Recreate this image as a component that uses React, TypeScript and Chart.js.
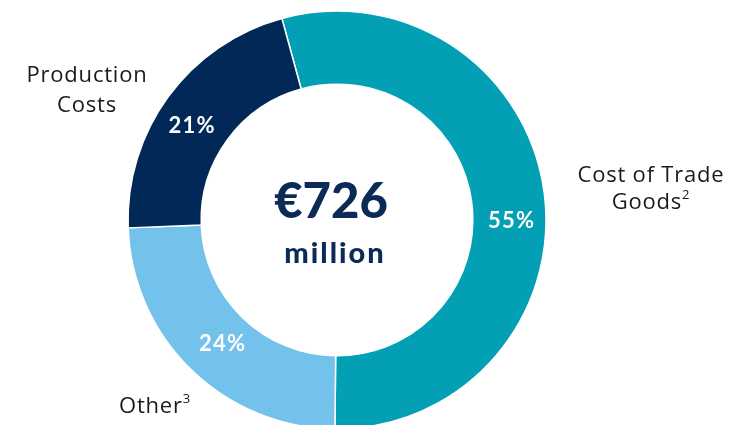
import React, { useEffect, useRef } from "react";
import { Chart, registerables } from "chart.js";

Chart.register(...registerables);

const categories = ["Cost of Trade Goods", "Other", "Production Costs"];
const values = [395, 176, 155]; // € million
const percentLabels = ["55%", "24%", "21%"];
const colors = ["#039FB5", "#72C2EC", "#022857"];
const totalLabel = "€726";
const unitLabel = "million";

const labelAngleOffsetDeg = [7.4, -1, -3];
const labelRadius = [174, 168, 174];

const outsideLabels = [
  { lines: ["Cost of Trade", "Goods"], sup: "2", x: 651, y: [182, 209] },
  { lines: ["Other"], sup: "3", x: 155, y: [413] },
  { lines: ["Production", "Costs"], sup: "", x: 87, y: [82, 112] },
];

function drawSpaced(ctx: any, text: string, x: number, y: number, spacing: number) {
  ctx.letterSpacing = spacing + "px";
  const w = ctx.measureText(text).width - spacing;
  ctx.textAlign = "left";
  ctx.fillText(text, x - w / 2, y);
  ctx.letterSpacing = "0px";
}

const textPlugin = {
  id: "donutText",
  afterDraw(chart: any) {
    const ctx = chart.ctx;
    const meta = chart.getDatasetMeta(0);
    if (!meta.data.length) return;
    const first: any = meta.data[0];
    const cx = first.x;
    const cy = first.y;
    ctx.save();
    // percentage labels
    ctx.fillStyle = "#ffffff";
    ctx.font = "bold 22px Lato";
    ctx.textBaseline = "middle";
    meta.data.forEach((arc: any, i: number) => {
      const mid = (arc.startAngle + arc.endAngle) / 2 + (labelAngleOffsetDeg[i] * Math.PI) / 180;
      const r = labelRadius[i];
      drawSpaced(ctx, percentLabels[i], cx + r * Math.cos(mid), cy + r * Math.sin(mid) + 1, 1.2);
    });
    // center text
    ctx.fillStyle = "#0B2A56";
    ctx.textBaseline = "alphabetic";
    ctx.font = "900 49px Lato";
    drawSpaced(ctx, totalLabel, cx - 6, 218, 0);
    ctx.font = "900 29px Lato";
    drawSpaced(ctx, unitLabel, cx - 3, 263, 2);
    // outside labels
    ctx.fillStyle = "#1a1a1a";
    outsideLabels.forEach((lab) => {
      lab.lines.forEach((line, j) => {
        const isLast = j === lab.lines.length - 1;
        ctx.font = "22px 'Open Sans'";
        ctx.letterSpacing = "0.8px";
        const w = ctx.measureText(line).width;
        let supW = 0;
        if (isLast && lab.sup) {
          ctx.font = "13px 'Open Sans'";
          supW = ctx.measureText(lab.sup).width;
        }
        const total = w + supW;
        const left = lab.x - total / 2;
        ctx.textAlign = "left";
        ctx.font = "22px 'Open Sans'";
        ctx.fillText(line, left, lab.y[j]);
        if (isLast && lab.sup) {
          ctx.font = "13px 'Open Sans'";
          ctx.fillText(lab.sup, left + w, lab.y[j] - 10);
        }
        ctx.letterSpacing = "0px";
      });
    });
    ctx.restore();
  },
};

export default function App() {
  const ref = useRef<HTMLCanvasElement>(null);
  useEffect(() => {
    document.body.style.margin = "0";
    if (!ref.current) return;
    const chart = new Chart(ref.current, {
      type: "doughnut",
      data: {
        labels: categories,
        datasets: [
          {
            data: values,
            backgroundColor: colors,
            borderColor: "#ffffff",
            borderWidth: 1.5,
          },
        ],
      },
      options: {
        responsive: false,
        animation: false,
        rotation: -15.3,
        cutout: "65%",
        radius: 209,
        layout: { padding: { left: 0, right: 71, top: 15, bottom: 0 } },
        plugins: {
          legend: { display: false },
          tooltip: { enabled: false },
        },
      } as any,
      plugins: [textPlugin],
    });
    return () => chart.destroy();
  }, []);
  return (
    <div style={{ width: 745, height: 425, background: "#fff" }}>
      <canvas ref={ref} width={745} height={425} />
    </div>
  );
}
